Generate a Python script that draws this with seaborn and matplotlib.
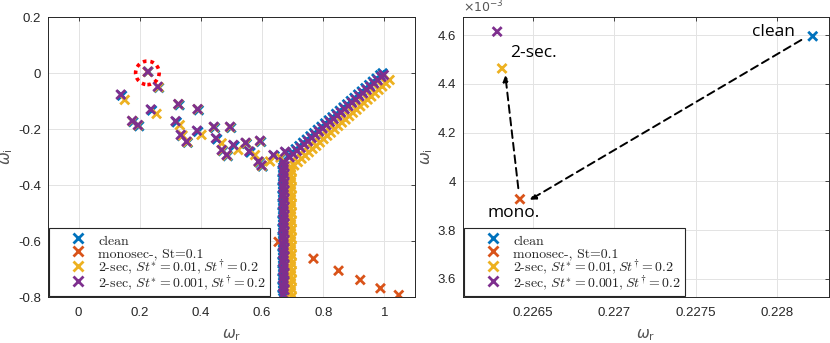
import matplotlib
matplotlib.use("Agg")
import numpy as np
import pandas as pd
import seaborn as sns
import matplotlib.pyplot as plt
from matplotlib.lines import Line2D
from matplotlib.patches import Ellipse
from matplotlib.ticker import FuncFormatter, FixedLocator

# ---------------- data ----------------
labels = ["clean",
          "monosec-, St=0.1",
          r"2-sec, $St^{*}=0.01, St^{\dagger}=0.2$",
          r"2-sec, $St^{*}=0.001, St^{\dagger}=0.2$"]
colors = ["#0072BD", "#D95319", "#EDB120", "#7E2F8E"]

# clean spectrum
clean_r = [0.22822,
           0.263, 0.142, 0.240, 0.330, 0.393, 0.179, 0.198, 0.321, 0.338, 0.357, 0.391, 0.446,
           0.499, 0.453, 0.472, 0.488, 0.510, 0.550, 0.597, 0.562, 0.592, 0.602, 0.641, 0.679,
           0.686, 0.698, 0.710, 0.722, 0.734, 0.746, 0.758, 0.770, 0.782, 0.794, 0.806, 0.818,
           0.830, 0.842, 0.854, 0.866, 0.878, 0.890, 0.902, 0.914, 0.926, 0.938, 0.950, 0.962,
           0.974, 0.986, 0.994,
           0.667, 0.669, 0.667, 0.669, 0.667, 0.669, 0.667, 0.669, 0.667, 0.669, 0.667, 0.669,
           0.667, 0.669, 0.667, 0.669, 0.667, 0.669, 0.667, 0.669, 0.667, 0.669, 0.667, 0.669,
           0.667, 0.669, 0.667, 0.669, 0.667, 0.669, 0.667, 0.669, 0.667]
clean_i = [0.004595,
           -0.053, -0.081, -0.134, -0.115, -0.133, -0.175, -0.190, -0.176, -0.225, -0.249, -0.210, -0.196,
           -0.196, -0.237, -0.279, -0.297, -0.261, -0.253, -0.246, -0.284, -0.320, -0.334, -0.297, -0.285,
           -0.295, -0.284, -0.272, -0.261, -0.249, -0.238, -0.226, -0.215, -0.203, -0.192, -0.180, -0.169,
           -0.158, -0.146, -0.135, -0.123, -0.112, -0.100, -0.089, -0.077, -0.066, -0.054, -0.043, -0.031,
           -0.020, -0.008, -0.001,
           -0.322, -0.337, -0.352, -0.366, -0.381, -0.396, -0.411, -0.425, -0.440, -0.455, -0.470, -0.484,
           -0.499, -0.514, -0.529, -0.543, -0.558, -0.573, -0.588, -0.602, -0.617, -0.632, -0.647, -0.661,
           -0.676, -0.691, -0.706, -0.720, -0.735, -0.750, -0.765, -0.779, -0.794]

# monosec spectrum (visible modes)
mono_r = [0.22642, 0.654, 0.768, 0.850, 0.921, 0.987, 1.047]
mono_i = [0.003927, -0.603, -0.663, -0.706, -0.739, -0.769, -0.793]

# 2-sec, St* = 0.01
sec01_r = [0.22631,
           0.262, 0.151, 0.255, 0.327, 0.390, 0.176, 0.195, 0.331, 0.340, 0.356, 0.402, 0.443,
           0.496, 0.468, 0.470, 0.486, 0.522, 0.548, 0.594, 0.577, 0.590, 0.626, 0.600, 0.660,
           0.705, 0.717, 0.729, 0.741, 0.753, 0.765, 0.777, 0.789, 0.801, 0.813, 0.825, 0.837,
           0.849, 0.861, 0.873, 0.885, 0.897, 0.909, 0.921, 0.933, 0.945, 0.957, 0.969, 0.981,
           0.993, 1.005, 1.017,
           0.694, 0.697, 0.694, 0.697, 0.694, 0.697, 0.694, 0.697, 0.694, 0.697, 0.694, 0.697,
           0.694, 0.697, 0.694, 0.697, 0.694, 0.697, 0.694, 0.697, 0.694, 0.697, 0.694, 0.697,
           0.694, 0.697, 0.694, 0.697, 0.694, 0.697, 0.694, 0.697]
sec01_i = [0.004463,
           -0.051, -0.096, -0.146, -0.112, -0.130, -0.172, -0.187, -0.186, -0.223, -0.247, -0.221, -0.194,
           -0.194, -0.251, -0.277, -0.295, -0.275, -0.251, -0.244, -0.293, -0.318, -0.316, -0.332, -0.302,
           -0.330, -0.318, -0.306, -0.295, -0.283, -0.271, -0.260, -0.248, -0.236, -0.224, -0.213, -0.201,
           -0.189, -0.177, -0.166, -0.154, -0.142, -0.131, -0.119, -0.107, -0.095, -0.084, -0.072, -0.060,
           -0.048, -0.037, -0.025,
           -0.335, -0.350, -0.365, -0.380, -0.395, -0.410, -0.425, -0.440, -0.455, -0.470, -0.485, -0.500,
           -0.515, -0.530, -0.545, -0.560, -0.575, -0.590, -0.605, -0.620, -0.635, -0.650, -0.665, -0.680,
           -0.695, -0.710, -0.725, -0.740, -0.755, -0.770, -0.785, -0.800]

# 2-sec, St* = 0.001
sec001_r = [0.22628,
            0.259, 0.138, 0.236, 0.326, 0.389, 0.175, 0.194, 0.317, 0.334, 0.353, 0.387, 0.442,
            0.495, 0.449, 0.468, 0.484, 0.506, 0.546, 0.593, 0.558, 0.588, 0.598, 0.637, 0.675,
            0.690, 0.702, 0.714, 0.726, 0.738, 0.750, 0.762, 0.774, 0.786, 0.798, 0.810, 0.822,
            0.834, 0.846, 0.858, 0.870, 0.882, 0.894, 0.906, 0.918, 0.930, 0.942, 0.954, 0.966,
            0.978, 0.990, 0.998,
            0.670, 0.673, 0.670, 0.673, 0.670, 0.673, 0.670, 0.673, 0.670, 0.673, 0.670, 0.673,
            0.670, 0.673, 0.670, 0.673, 0.670, 0.673, 0.670, 0.673, 0.670, 0.673, 0.670, 0.673,
            0.670, 0.673, 0.670, 0.673, 0.670, 0.673, 0.670, 0.673, 0.670]
sec001_i = [0.004614,
            -0.049, -0.077, -0.130, -0.111, -0.129, -0.171, -0.186, -0.172, -0.221, -0.245, -0.206, -0.192,
            -0.192, -0.233, -0.275, -0.293, -0.257, -0.249, -0.242, -0.280, -0.316, -0.330, -0.293, -0.281,
            -0.301, -0.290, -0.278, -0.267, -0.255, -0.244, -0.232, -0.221, -0.209, -0.198, -0.186, -0.175,
            -0.164, -0.152, -0.141, -0.129, -0.118, -0.106, -0.095, -0.083, -0.072, -0.060, -0.049, -0.037,
            -0.026, -0.014, -0.007,
            -0.318, -0.333, -0.348, -0.362, -0.377, -0.392, -0.407, -0.421, -0.436, -0.451, -0.466, -0.480,
            -0.495, -0.510, -0.525, -0.539, -0.554, -0.569, -0.584, -0.598, -0.613, -0.628, -0.643, -0.657,
            -0.672, -0.687, -0.702, -0.716, -0.731, -0.746, -0.761, -0.775, -0.790]

left_xticks = [0, 0.2, 0.4, 0.6, 0.8, 1]
left_yticks = [-0.8, -0.6, -0.4, -0.2, 0, 0.2]
right_xticks = [0.2265, 0.227, 0.2275, 0.228]
right_yticks = [3.6e-3, 3.8e-3, 4.0e-3, 4.2e-3, 4.4e-3, 4.6e-3]

# ---------------- build table ----------------
series = [(clean_r, clean_i), (mono_r, mono_i), (sec01_r, sec01_i), (sec001_r, sec001_i)]
frames = []
for lab, (r, i) in zip(labels, series):
    frames.append(pd.DataFrame({"wr": r, "wi": i, "case": lab}))
df = pd.concat(frames, ignore_index=True)
palette = dict(zip(labels, colors))

# ---------------- style ----------------
sns.set_style("white")
plt.rcParams["font.family"] = ["Liberation Sans", "DejaVu Sans"]
plt.rcParams["mathtext.fontset"] = "cm"
plt.rcParams["axes.unicode_minus"] = False

fig = plt.figure(figsize=(8.3, 3.43), dpi=100)
ax1 = fig.add_axes([48 / 830, 46 / 343, 367 / 830, 280 / 343])
ax2 = fig.add_axes([463 / 830, 46 / 343, 366 / 830, 280 / 343])

dark = "#262626"
for ax in (ax1, ax2):
    sns.scatterplot(data=df, x="wr", y="wi", hue="case", hue_order=labels,
                    palette=palette, marker="x", s=42, linewidth=2.0,
                    legend=False, ax=ax, zorder=3)
    ax.set_axisbelow(True)
    ax.grid(True, color="#e3e3e3", lw=0.7)
    for sp in ax.spines.values():
        sp.set_color(dark)
        sp.set_linewidth(0.7)
    ax.tick_params(direction="in", length=3, width=0.6, top=True, right=True,
                   labelsize=9.5, colors=dark, pad=5)
    ax.tick_params(axis="x", pad=7)
    ax.set_xlabel(r"$\omega_\mathrm{r}$", fontsize=11, color="#555555",
                  math_fontfamily="dejavusans", labelpad=6)
    ax.set_ylabel(r"$\omega_\mathrm{i}$", fontsize=11, color="#555555",
                  math_fontfamily="dejavusans", labelpad=2)

fmt = FuncFormatter(lambda v, p: f"{v:g}")
ax1.set_xlim(-0.1, 1.1)
ax1.set_ylim(-0.8, 0.2)
ax1.xaxis.set_major_locator(FixedLocator(left_xticks))
ax1.yaxis.set_major_locator(FixedLocator(left_yticks))
ax1.xaxis.set_major_formatter(fmt)
ax1.yaxis.set_major_formatter(fmt)

ax2.set_xlim(0.22607, 0.22832)
ax2.set_ylim(3.526e-3, 4.674e-3)
ax2.xaxis.set_major_locator(FixedLocator(right_xticks))
ax2.yaxis.set_major_locator(FixedLocator(right_yticks))
ax2.xaxis.set_major_formatter(fmt)
ax2.yaxis.set_major_formatter(FuncFormatter(lambda v, p: f"{round(v * 1e3, 4):g}"))
ax2.text(0.0, 1.005, r"$\times 10^{-3}$", transform=ax2.transAxes, fontsize=9,
         color="#555555", ha="left", va="bottom", math_fontfamily="dejavusans")

# red dotted circle around leading mode
ax1.add_patch(Ellipse((0.225, 0.0005), width=0.077, height=0.084, fill=False,
                      edgecolor="red", lw=2.6, linestyle=(0, (1, 1.1)), zorder=4))

# annotations on right panel
afont = dict(fontsize=12.5, family=["Open Sans", "DejaVu Sans"], color="black")
ax2.text(0.22798, 4.614e-3, "clean", ha="center", va="center", **afont)
ax2.text(0.22650, 4.528e-3, "2-sec.", ha="center", va="center", **afont)
ax2.text(0.22638, 3.872e-3, "mono.", ha="center", va="center", **afont)
arr = dict(arrowstyle="-|>", linestyle=(0, (4, 2.5)), lw=1.4, color="black",
           shrinkA=0, shrinkB=0, mutation_scale=9)
ax2.annotate("", xy=(0.22648, 3.924e-3), xytext=(0.22815, 4.58e-3), arrowprops=arr)
ax2.annotate("", xy=(0.22633, 4.436e-3), xytext=(0.22641, 3.972e-3), arrowprops=arr)

# legends
handles = [Line2D([], [], marker="x", linestyle="none", color=c, markersize=7,
                  markeredgewidth=2.0) for c in colors]
for ax in (ax1, ax2):
    leg = ax.legend(handles, labels, loc="lower left", bbox_to_anchor=(0.004, 0.003),
                    borderaxespad=0, prop={"family": "cmr10", "size": 10},
                    frameon=True, fancybox=False, framealpha=1, edgecolor=dark,
                    handlelength=3.5, handletextpad=-0.3, borderpad=0.3,
                    handleheight=1.4, labelspacing=-0.22)
    leg.get_frame().set_linewidth(0.8)
    for t in leg.get_texts():
        t.set_color(dark)

fig.savefig("out.png", dpi=100)
